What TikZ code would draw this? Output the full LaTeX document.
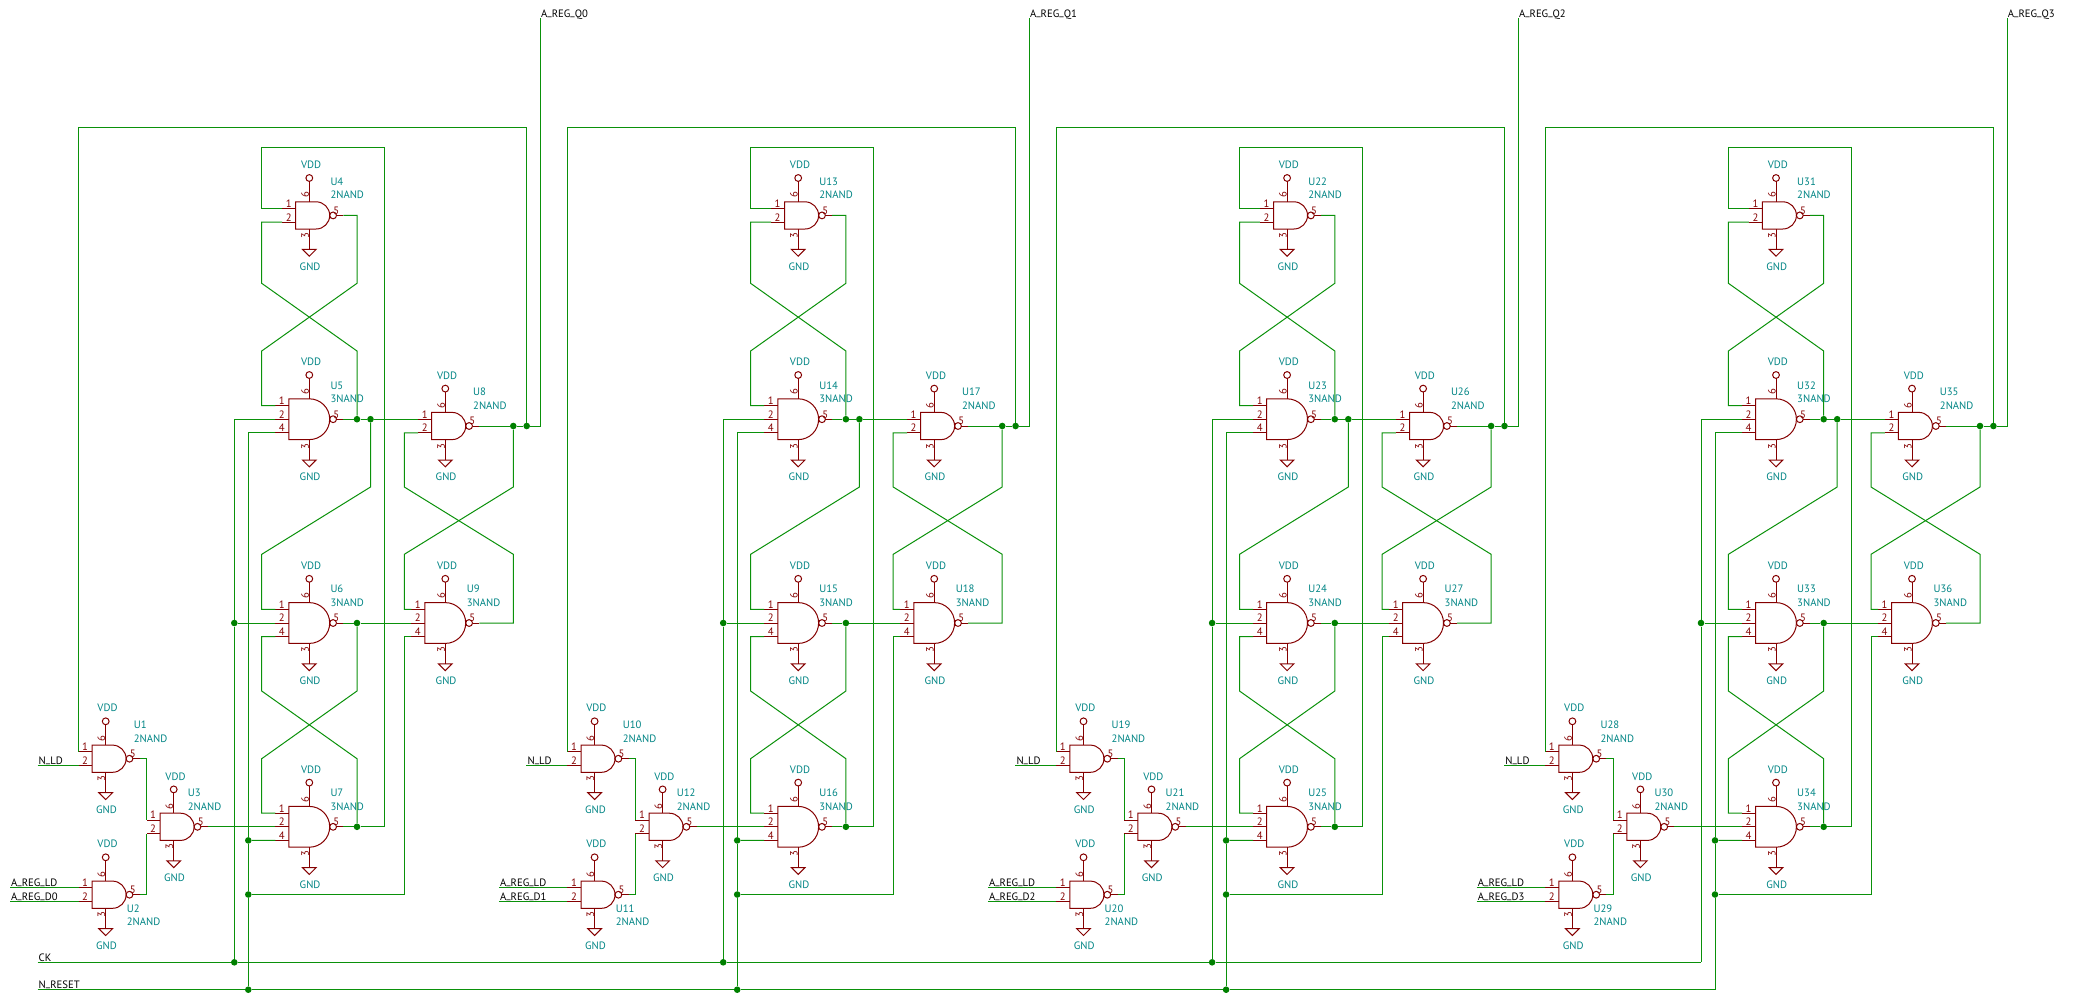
\documentclass[tikz,border=0pt]{standalone}
\usepackage{fontspec}
\setmainfont{PT Sans}
\definecolor{wirecol}{RGB}{10,145,10}
\definecolor{juncol}{RGB}{0,128,0}
\definecolor{pincol}{RGB}{132,0,0}
\definecolor{refcol}{RGB}{0,132,132}
\newcommand{\usc}{\raisebox{1.8pt}{\_}}
\tikzset{
    wire/.style={draw=wirecol, line width=1pt},
    junc/.style={circle, fill=juncol, inner sep=0pt, minimum size=6.6pt},
    gateline/.style={draw=pincol, line width=1pt},
    lbl/.style={inner sep=0pt, text height=7.6pt, text depth=0pt, font=\fontsize{10.7}{12}\selectfont},
    netlbl/.style={lbl, anchor=west, text=black},
    reflbl/.style={lbl, anchor=west, text=refcol},
    pwrlbl/.style={lbl, text=refcol},
    pinlbl/.style={lbl, text=pincol}
}
% id, pin x, output y, half height, value, input pins, label dx, label dy
\newcommand{\nandgate}[8]{
    \begin{scope}[shift={(#2,#3)}]
        \pgfmathtruncatemacro{\refnum}{#1+9*\s}
        \draw[gateline] (-#4,-#4) -- (20.4-#4,-#4) arc[start angle=-90, end angle=90, radius=#4] -- (-#4,#4) -- cycle;
        \draw[gateline] (23.8,0) circle (3.4);
        \draw[gateline] (27.2,0) -- (34,0);
        \draw[gateline] (0,-#4) -- (0,-#4-20.4);
        \draw[gateline] (0,-#4-23.8) circle (3.4);
        \draw[gateline] (0,#4) -- (0,#4+20.4);
        \draw[gateline] (-6.8,#4+20.4) -- (6.8,#4+20.4) -- (0,#4+27.2) -- cycle;
        \foreach \n/\dy in {#6}{
            \draw[gateline] (-#4,\dy) -- (-#4-13.6,\dy);
            \coordinate (g\s-#1-\n) at (-#4-13.6,\dy);
            \node[pinlbl] (g\s-#1-n\n) at (-#4-7,\dy-5) {\n};
        }
        \coordinate (g\s-#1-5) at (34,0);
        \node[pinlbl] (g\s-#1-n5) at (27,-5) {5};
        \node[pinlbl, rotate=90] (g\s-#1-n6) at (-4.3,-#4-7) {6};
        \node[pinlbl, rotate=90] (g\s-#1-n3) at (-4.3,#4+6.6) {3};
        \node[pwrlbl] (g\s-#1-vdd) at (1.8,-#4-37) {VDD};
        \node[pwrlbl] (g\s-#1-gnd) at (0.8,#4+37.4) {GND};
        \node[reflbl] (g\s-#1-ref) at (#7,#8) {U\refnum};
        \node[reflbl] (g\s-#1-val) at (#7,#8+13.6) {#5};
    \end{scope}
}
\newcommand{\twonand}[5]{\nandgate{#1}{#2}{#3}{13.6}{2NAND}{1/-6.8,2/6.8}{#4}{#5}}
\newcommand{\threenand}[5]{\nandgate{#1}{#2}{#3}{20.4}{3NAND}{1/-13.6,2/0,4/13.6}{#4}{#5}}

\begin{document}
\begin{tikzpicture}[x=1pt, y=-1pt]
    \useasboundingbox (0,0) rectangle (2078,994);
    \foreach \s in {0,1,2,3}{
        \begin{scope}[shift={(\s*488.9,0)}]
            \twonand{1}{105.7}{758.7}{28}{-34}
            \twonand{2}{105.7}{894.7}{21}{13.5}
            \twonand{3}{173.7}{826.8}{14}{-34}
            \twonand{4}{309.3}{215.4}{21}{-34}
            \threenand{5}{309.3}{419.2}{21}{-34}
            \threenand{6}{309.3}{623}{21}{-34}
            \threenand{7}{309.3}{826.8}{21}{-34}
            \twonand{8}{445.3}{426}{27.7}{-34}
            \threenand{9}{445.3}{623}{21.4}{-34}

            \node[junc] (j\s-5a) at (357,419.2) {};
            \node[junc] (j\s-5b) at (370.5,419.2) {};
            \node[junc] (j\s-6) at (357,623) {};
            \node[junc] (j\s-7) at (357,826.8) {};
            \node[junc] (j\s-8a) at (513.3,426) {};
            \node[junc] (j\s-8b) at (526.7,426) {};
            \node[junc] (j\s-ck6) at (234.3,623) {};
            \node[junc] (j\s-rs7) at (248.3,840.4) {};
            \node[junc] (j\s-rs9) at (248.3,894.5) {};
            \ifnum\s<3
                \node[junc] (j\s-ck) at (234.3,962.3) {};
                \node[junc] (j\s-rs) at (248.3,989.7) {};
            \else
                \coordinate (j\s-ck) at (234.3,962.3);
                \coordinate (j\s-rs) at (248.3,989.7);
            \fi

            \coordinate (nld\s) at (37.5,765.5);
            \coordinate (ld\s) at (10,887.9);
            \coordinate (d\s) at (10,901.5);
            \coordinate (q\s) at (540.3,18.3);

            % input stage
            \draw[wire] (nld\s) -- (g\s-1-2);
            \draw[wire] (ld\s) -- (g\s-2-1);
            \draw[wire] (d\s) -- (g\s-2-2);
            \draw[wire] (g\s-1-5) -| (g\s-3-1);
            \draw[wire] (g\s-2-5) -| (g\s-3-2);
            \draw[wire] (g\s-3-5) -- (g\s-7-2);
            % cross coupled latches
            \draw[wire] (g\s-4-1) -| (261.7,147.3) -| (384.3,826.8) -- (j\s-7);
            \draw[wire] (g\s-4-2) -| (261.7,283.3) -- (357,351) -- (j\s-5a);
            \draw[wire] (g\s-4-5) -| (357,283.3) -- (261.7,351) |- (g\s-5-1);
            \draw[wire] (g\s-5-5) -- (j\s-5a) -- (j\s-5b) -- (g\s-8-1);
            \draw[wire] (j\s-5b) -- (370.5,487) -- (261.7,554.3) |- (g\s-6-1);
            \draw[wire] (g\s-5-2) -| (j\s-ck6);
            \draw[wire] (j\s-ck6) -- (j\s-ck);
            \draw[wire] (g\s-5-4) -| (j\s-rs7);
            \draw[wire] (j\s-rs7) -- (j\s-rs9) -- (j\s-rs);
            \draw[wire] (g\s-6-2) -- (j\s-ck6);
            \draw[wire] (g\s-6-5) -- (j\s-6) -- (g\s-9-2);
            \draw[wire] (j\s-6) -- (357,691) -- (261.7,758.7) |- (g\s-7-1);
            \draw[wire] (g\s-6-4) -| (261.7,691) -- (357,758.7) -- (j\s-7);
            \draw[wire] (g\s-7-5) -- (j\s-7);
            \draw[wire] (j\s-rs7) -- (g\s-7-4);
            \draw[wire] (g\s-9-4) -| (404.3,894.5) -- (j\s-rs9);
            \draw[wire] (g\s-8-2) -| (404.3,487) -- (513.3,554.3) |- (g\s-9-5);
            \draw[wire] (g\s-8-5) -- (j\s-8a) -- (j\s-8b) -| (q\s);
            \draw[wire] (j\s-8a) -- (513.3,487) -- (404.3,554.3) |- (g\s-9-1);
            \draw[wire] (j\s-8b) |- (78.3,127) |- (g\s-1-1);

            \node[netlbl] (nldlbl\s) at (38.5,760.7) {N\usc LD};
            \node[netlbl] (ldlbl\s) at (11,882.7) {A\usc REG\usc LD};
            \node[netlbl] (dlbl\s) at (11,896.7) {A\usc REG\usc D\s};
            \node[netlbl] (qlbl\s) at (541,13.3) {A\usc REG\usc Q\s};
        \end{scope}
    }
    \coordinate (ckin) at (37.5,962.3);
    \coordinate (rsin) at (37.5,989.7);
    \draw[wire] (ckin) -- (j0-ck) -- (j1-ck) -- (j2-ck) -- (j3-ck);
    \draw[wire] (rsin) -- (j0-rs) -- (j1-rs) -- (j2-rs) -- (j3-rs);
    \node[netlbl] (cklbl) at (38.5,957.3) {CK};
    \node[netlbl] (rslbl) at (38.5,984.7) {N\usc RESET};
\end{tikzpicture}
\end{document}
